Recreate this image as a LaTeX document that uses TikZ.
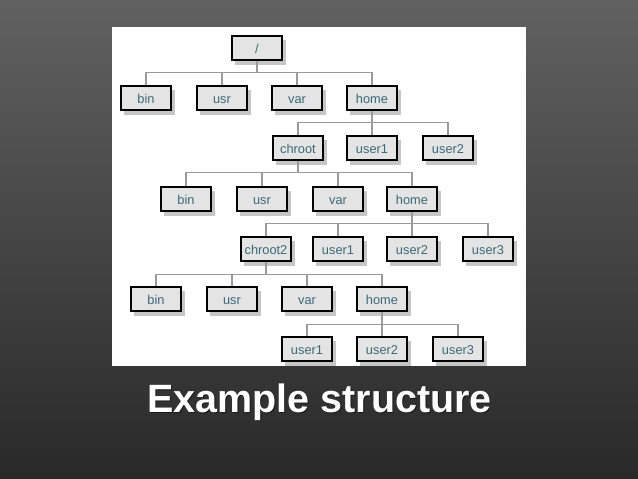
\documentclass[tikz,border=0pt]{standalone}
\usepackage{fontspec}
\setmainfont{Liberation Sans}
\definecolor{boxfill}{HTML}{E4E4E4}
\definecolor{boxtext}{HTML}{3C6878}
\definecolor{linkgray}{HTML}{9A9A9A}
\definecolor{shadowgray}{HTML}{C6C6C6}
\tikzset{
  dirbox/.style={draw=black, line width=1.4pt, fill=boxfill, minimum width=50pt, minimum height=24pt,
    inner sep=0pt, text height=10.5pt, text depth=0.5pt, font=\fontsize{12.8}{14}\selectfont, text=boxtext},
  link/.style={draw=linkgray, line width=1.2pt},
  titletext/.style={font=\bfseries\fontsize{39.5}{44}\selectfont},
}
\begin{document}
\begin{tikzpicture}[x=1pt,y=-1pt]
\shade[top color=black!62, bottom color=black!84] (0,0) rectangle (638,479);
\useasboundingbox (0,0) rectangle (638,479);
\fill[white] (112,27) rectangle (526,366);
% shadows
\foreach \x/\y in {257/48, 146/98,222/98,297/98,372/98, 298/148,372/148,448/148,
  186/199,262/199,338/199,412/199, 266/249,338/249,412/249,488/249,
  156/299,232/299,307/299,382/299, 307/349,382/349,458/349}
  {\fill[shadowgray] (\x-22,\y-8) rectangle (\x+29,\y+17);}
% boxes
\node[dirbox] (root) at (257,48) {/};
\node[dirbox] (bin1) at (146,98) {bin};
\node[dirbox] (usr1) at (222,98) {usr};
\node[dirbox] (var1) at (297,98) {var};
\node[dirbox] (home1) at (372,98) {home};
\node[dirbox] (chroot) at (298,148) {chroot};
\node[dirbox] (u1a) at (372,148) {user1};
\node[dirbox] (u2a) at (448,148) {user2};
\node[dirbox] (bin2) at (186,199) {bin};
\node[dirbox] (usr2) at (262,199) {usr};
\node[dirbox] (var2) at (338,199) {var};
\node[dirbox] (home2) at (412,199) {home};
\node[dirbox] (chroot2) at (266,249) {chroot2};
\node[dirbox] (u1b) at (338,249) {user1};
\node[dirbox] (u2b) at (412,249) {user2};
\node[dirbox] (u3b) at (488,249) {user3};
\node[dirbox] (bin3) at (156,299) {bin};
\node[dirbox] (usr3) at (232,299) {usr};
\node[dirbox] (var3) at (307,299) {var};
\node[dirbox] (home3) at (382,299) {home};
\node[dirbox] (u1c) at (307,349) {user1};
\node[dirbox] (u2c) at (382,349) {user2};
\node[dirbox] (u3c) at (458,349) {user3};
% connectors
\draw[link] (root.south) -- ++(0,12) coordinate (j1);
\draw[link] (bin1.north) |- (j1) -| (home1.north);
\draw[link] (usr1.north) -- (usr1.north |- j1);
\draw[link] (var1.north) -- (var1.north |- j1);
\draw[link] (home1.south) -- ++(0,12) coordinate (j2);
\draw[link] (chroot.north) |- (j2) -| (u2a.north);
\draw[link] (u1a.north) -- (u1a.north |- j2);
\draw[link] (chroot.south) -- ++(0,12) coordinate (j3);
\draw[link] (bin2.north) |- (j3) -| (home2.north);
\draw[link] (usr2.north) -- (usr2.north |- j3);
\draw[link] (var2.north) -- (var2.north |- j3);
\draw[link] (home2.south) -- ++(0,12) coordinate (j4);
\draw[link] (chroot2.north) |- (j4) -| (u3b.north);
\draw[link] (u1b.north) -- (u1b.north |- j4);
\draw[link] (u2b.north) -- (u2b.north |- j4);
\draw[link] (chroot2.south) -- ++(0,13) coordinate (j5);
\draw[link] (bin3.north) |- (j5) -| (home3.north);
\draw[link] (usr3.north) -- (usr3.north |- j5);
\draw[link] (var3.north) -- (var3.north |- j5);
\draw[link] (home3.south) -- ++(0,13) coordinate (j6);
\draw[link] (u1c.north) |- (j6) -| (u3c.north);
\draw[link] (u2c.north) -- (u2c.north |- j6);
% title
\node[text=black!90, titletext] (titleshadow) at (320.5,403.5) {Example structure};
\node[text=white, titletext] (title) at (319.5,402) {Example structure};
\end{tikzpicture}
\end{document}
